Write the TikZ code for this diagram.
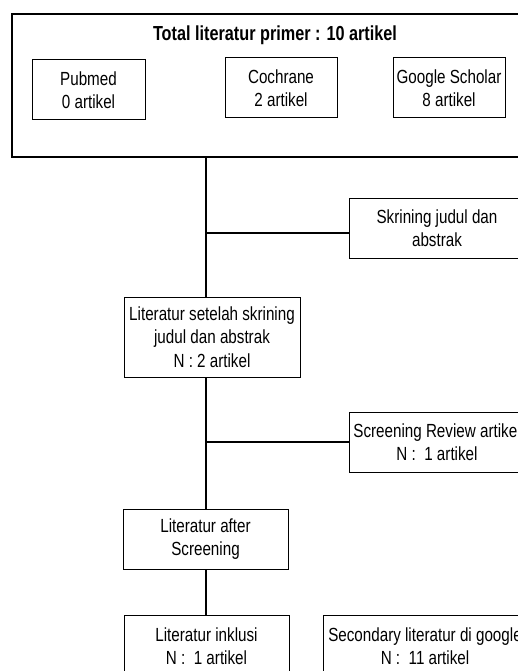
\documentclass[tikz,border=0pt]{standalone}
\usepackage{fontspec}
\setmainfont{Liberation Sans}[FakeStretch=0.8]
\begin{document}
\begin{tikzpicture}[x=1pt,y=1pt,
  box/.style={draw=black,line width=1pt,align=center,inner sep=0pt,
    font=\fontsize{19}{23.5}\selectfont},
  frame/.style={draw=black,line width=2.5pt,inner sep=0pt},
  conn/.style={draw=black,line width=2.5pt}]
\useasboundingbox (0,0) rectangle (518,-671);
\clip (0,0) rectangle (518,-671);
% outer frame
\node[frame,minimum width=530pt,minimum height=143pt] (big) at (277,-85.5) {};
\node[font=\bfseries\fontsize{20.3}{24}\selectfont] (title) at (275,-35) {Total literatur primer : 10 artikel};
\node[box,minimum width=113pt,minimum height=60pt] (pub) at (88.5,-90) {Pubmed\\0 artikel};
\node[box,minimum width=112pt,minimum height=60pt] (coc) at (281,-88) {Cochrane\\2 artikel};
\node[box,minimum width=112pt,minimum height=60pt] (gs) at (449,-88) {Google Scholar\\8 artikel};
% flow boxes
\node[box,minimum width=176pt,minimum height=60pt] (skr) at (437,-228) {Skrining judul dan\\abstrak};
\node[box,minimum width=176pt,minimum height=80pt] (lit1) at (212,-337) {Literatur setelah skrining\\judul dan abstrak\\N : 2 artikel};
\node[box,minimum width=176pt,minimum height=60pt] (srv) at (437,-442) {Screening Review artikel\\N :\ \ 1 artikel};
\node[box,minimum width=165pt,minimum height=60pt] (lit2) at (205.5,-539) {Literatur after\\Screening};
\node[box,minimum width=165pt,minimum height=62pt,text depth=0pt] (inc) at (206.5,-646) {Literatur inklusi\\N :\ \ 1 artikel};
\node[box,minimum width=204pt,minimum height=62pt] (sec) at (425,-646) {Secondary literatur di google\\N :\ \ 11 artikel};
% connectors
\coordinate (spine) at (206,0);
\coordinate (j1) at (206,-233);
\coordinate (j2) at (206,-442);
\draw[conn] (big.south -| spine) -- (lit1.north -| spine);
\draw[conn] (j1) -- (skr.west |- j1);
\draw[conn] (lit1.south -| spine) -- (lit2.north -| spine);
\draw[conn] (j2) -- (srv.west);
\draw[conn] (lit2.south -| spine) -- (inc.north -| spine);
\end{tikzpicture}
\end{document}
